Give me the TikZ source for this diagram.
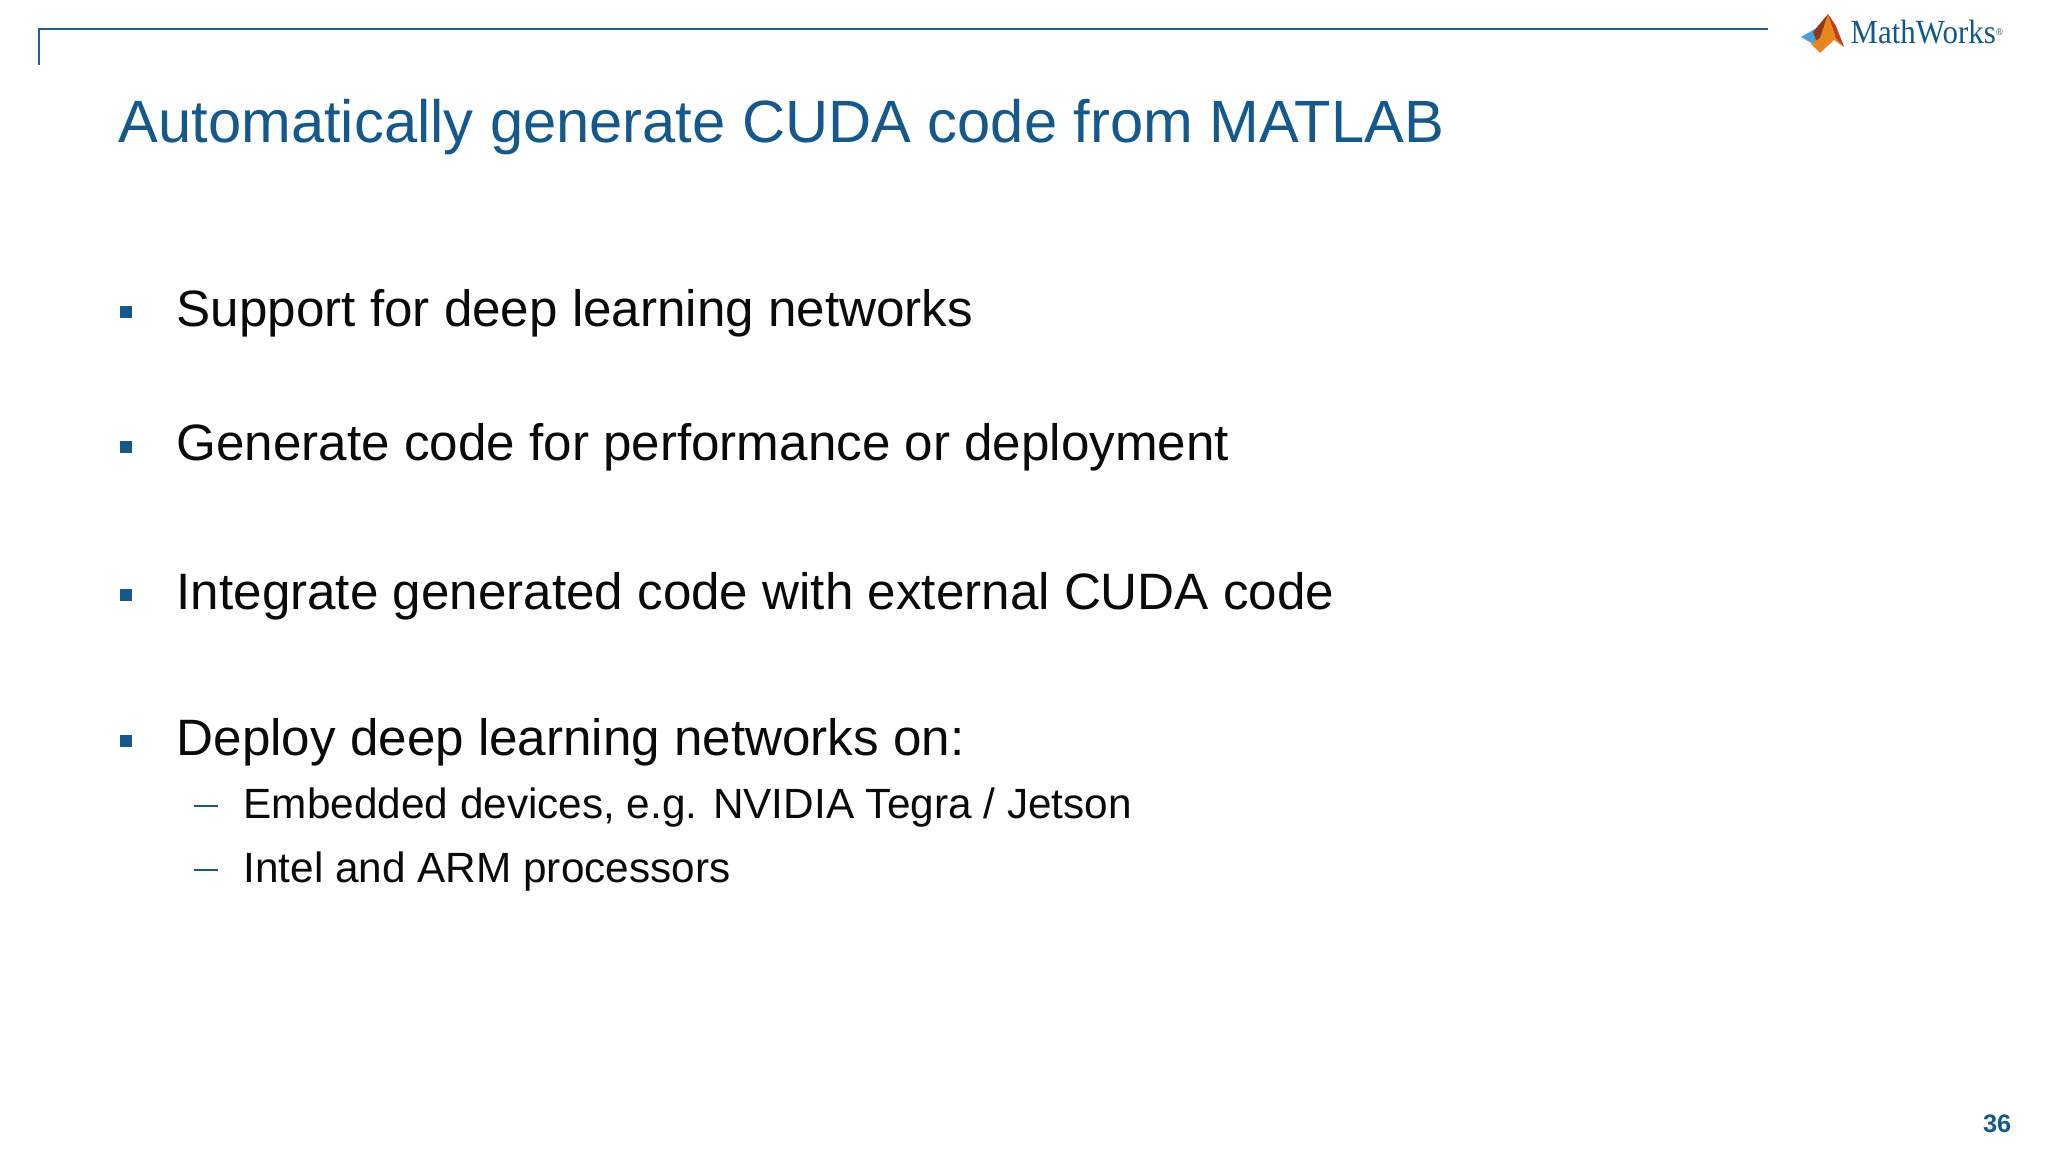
\documentclass[tikz,border=0pt]{standalone}
\usepackage{fontspec}
\setmainfont{Liberation Sans}
\newfontfamily\logofont{Liberation Serif}
\definecolor{slideblue}{HTML}{14588C}
\definecolor{ruleblue}{HTML}{1F5F90}
\definecolor{bodyblack}{HTML}{0A0A0A}
\definecolor{logosky}{HTML}{4AA0D8}
\definecolor{logobrown}{HTML}{8A3A20}
\definecolor{logoorange}{HTML}{E8861E}
\definecolor{logored}{HTML}{C33C1E}
\tikzset{
    titletext/.style={anchor=base west,inner sep=0pt,text=slideblue,font=\fontsize{16.97}{20}\selectfont},
    itemtext/.style={anchor=base west,inner sep=0pt,text=bodyblack,font=\fontsize{14.55}{18}\selectfont},
    subtext/.style={anchor=base west,inner sep=0pt,text=bodyblack,font=\fontsize{12.03}{15}\selectfont},
    itemmark/.style={fill=slideblue,draw=none,minimum size=3.4pt,inner sep=0pt,rectangle},
    submark/.style={fill=slideblue,draw=none,minimum width=6.8pt,minimum height=0.8pt,inner sep=0pt,rectangle}
}
\begin{document}
\begin{tikzpicture}[x=0.01cm,y=-0.01cm]
    \useasboundingbox (0,0) rectangle (2048,1152);
    \fill[white] (0,0) rectangle (2048,1152);

    % Draw the corner rule
    \draw[ruleblue,line width=0.7pt] (39,65) -- (39,29) -- (1768,29);

    % Draw the logo
    \fill[logosky] (1801,37) -- (1822,25) -- (1818,47) -- cycle;
    \fill[logobrown] (1813,32) -- (1828,14) -- (1826,34) -- (1818,46) -- cycle;
    \fill[logoorange] (1828,14) -- (1838,32) -- (1844,47) -- (1834,40) -- (1820,53) -- (1811,44) -- (1820,38) -- cycle;
    \fill[logored] (1828,14) -- (1836,26) -- (1844,47) -- (1836,38) -- cycle;
    \node[anchor=base west,inner sep=0pt,text=slideblue,font=\logofont\fontsize{9.6}{11}\selectfont] (logo) at (1850,44) {\scalebox{0.915}[1]{MathWorks\raisebox{0.55ex}{\fontsize{3}{3}\selectfont ®}}};

    % Title
    \node[titletext] (title) at (118,143) {Automatically generate CUDA code from MATLAB};

    % First level items
    \node[itemtext] (support) at (176,327) {Support for deep learning networks};
    \node[itemtext] (generate) at (176,461) {Generate code for performance or deployment};
    \node[itemtext] (integrate) at (176,610) {Integrate generated code with external CUDA code};
    \node[itemtext] (deploy) at (176,755) {Deploy deep learning networks on:};

    % Second level items
    \node[subtext] (embedded) at (243,818) {Embedded devices, e.g. NVIDIA Tegra / Jetson};
    \node[subtext] (intel) at (243,882) {Intel and ARM processors};

    % Bullets
    \node[itemmark] (marka) at (126,312) {};
    \node[itemmark] (markb) at (126,447) {};
    \node[itemmark] (markc) at (126,595) {};
    \node[itemmark] (markd) at (126,741) {};
    \node[submark] (marke) at (206,806) {};
    \node[submark] (markf) at (206,870) {};

    % Page number
    \node[anchor=base east,inner sep=0pt,text=slideblue,font=\bfseries\fontsize{7.2}{9}\selectfont] (pagenum) at (2012,1132) {36};
\end{tikzpicture}
\end{document}
